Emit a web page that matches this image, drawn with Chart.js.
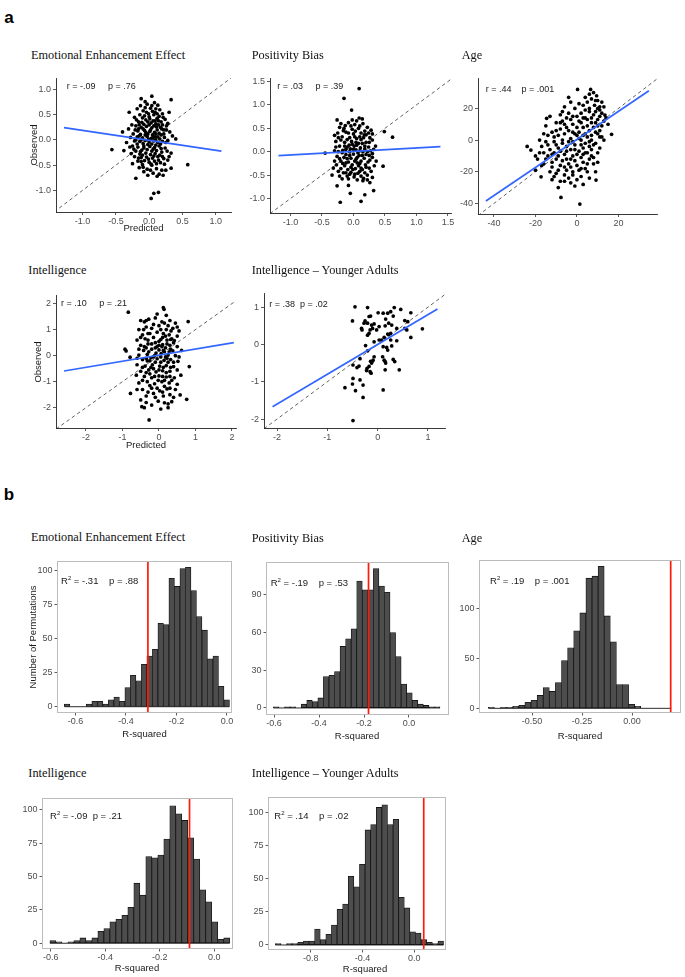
<!DOCTYPE html>
<html><head><meta charset="utf-8">
<script src="https://cdn.jsdelivr.net/npm/chart.js@4.4.0/dist/chart.umd.min.js"></script>
<style>
html,body{margin:0;padding:0;background:#fff}
body{width:685px;height:977px;position:relative;overflow:hidden;font-family:"Liberation Sans",Arial,sans-serif}
canvas{position:absolute}
.t{position:absolute;font-family:"Liberation Serif","Times New Roman",serif;font-size:12.3px;color:#111;white-space:nowrap;line-height:1;transform:translateY(-50%)}
.an{position:absolute;font-size:9px;color:#1a1a1a;white-space:pre;line-height:1;transform:translateY(-50%)}
.an.h{font-size:9.5px}
.an sup{font-size:6px;vertical-align:4px;line-height:0}
.ax{position:absolute;font-size:9.5px;color:#1a1a1a;white-space:nowrap;line-height:1;transform:translate(-50%,-50%)}
.ax.v{transform:translate(-50%,-50%) rotate(-90deg)}
.lab{position:absolute;font-weight:bold;font-size:17px;line-height:1;transform:translate(-50%,-50%);color:#000}
</style>
</head><body>
<script>
// ---------------- Panel a: predicted vs observed ----------------
const eeeScatter = [
[0.04,0.87],[0.33,0.80],[-0.12,0.82],[-0.06,0.76],[0.08,0.74],[-0.03,0.71],[0.13,0.69],
[-0.18,0.62],[0.02,0.63],[0.10,0.62],[-0.09,0.58],[0.05,0.57],[0.16,0.60],[0.30,0.55],[-0.30,0.55],[-0.01,0.52],[0.20,0.52],[0.07,0.50],[-0.14,0.50],
[-0.22,0.45],[-0.10,0.44],[0.00,0.46],[0.12,0.43],[0.24,0.41],[-0.05,0.40],[0.06,0.38],[0.18,0.36],[-0.16,0.36],[0.03,0.34],[0.10,0.32],[-0.08,0.31],[0.28,0.33],[-0.26,0.30],[0.15,0.47],[-0.02,0.36],
[-0.20,0.28],[-0.12,0.25],[-0.04,0.27],[0.04,0.24],[0.11,0.26],[0.19,0.22],[0.26,0.20],[-0.17,0.18],[-0.07,0.19],[0.01,0.17],[0.08,0.15],[0.15,0.13],[0.22,0.12],[-0.24,0.12],[-0.13,0.11],[-0.02,0.12],[0.05,0.10],[0.31,0.16],[-0.40,0.16],[0.12,0.20],[-0.09,0.22],
[-0.28,0.05],[-0.18,0.06],[-0.10,0.04],[-0.03,0.07],[0.03,0.03],[0.09,0.06],[0.16,0.02],[0.23,0.05],[0.40,0.02],[-0.22,-0.02],[-0.14,-0.03],[-0.06,-0.01],[0.00,-0.04],[0.07,-0.02],[0.13,-0.05],[0.20,-0.03],[0.28,-0.01],[-0.34,-0.05],[-0.09,-0.07],[0.04,-0.08],[0.10,0.00],[-0.01,0.01],[0.17,-0.08],
[-0.56,-0.19],[-0.38,-0.21],[-0.25,-0.12],[-0.17,-0.14],[-0.08,-0.12],[0.01,-0.13],[0.08,-0.15],[0.15,-0.12],[0.24,-0.16],[-0.20,-0.22],[-0.11,-0.20],[-0.03,-0.19],[0.04,-0.22],[0.11,-0.21],[0.19,-0.24],[0.27,-0.22],[-0.14,-0.28],[-0.05,-0.26],[0.02,-0.29],[0.09,-0.27],[0.16,-0.30],[-0.27,-0.27],[0.33,-0.26],
[-0.22,-0.33],[-0.12,-0.35],[-0.04,-0.34],[0.05,-0.36],[0.13,-0.33],[0.22,-0.37],[-0.17,-0.42],[-0.07,-0.41],[0.00,-0.44],[0.08,-0.42],[0.17,-0.45],[0.28,-0.40],[-0.10,-0.49],[0.04,-0.50],[-0.25,-0.47],[0.33,-0.56],
[0.58,-0.49],[-0.15,-0.55],[-0.03,-0.58],[0.11,-0.57],[0.19,-0.60],[-0.08,-0.63],[0.06,-0.66],[0.15,-0.68],[-0.02,-0.70],[-0.20,-0.76],[0.12,-0.72],[0.25,-0.60],
[0.07,-1.06],[0.14,-1.04],[0.03,-1.16],
[0.00,0.00],[-0.05,0.15],[0.10,-0.10],[-0.15,0.30],[0.20,0.30],[-0.10,-0.30],[0.14,0.38],[0.07,0.28],[-0.12,0.00],[0.18,0.10],
[-0.19,0.40],[-0.07,0.48],[0.09,0.55],[0.21,0.45],[-0.11,0.35],[0.01,0.42],[0.17,0.25],[-0.21,0.20],[-0.15,0.08],[-0.06,0.10],[0.02,0.20],[0.13,0.06],[0.25,-0.05],[-0.18,-0.08],[-0.02,-0.09],[0.06,-0.18],[0.18,-0.17],[-0.23,-0.18],[-0.13,-0.23],[0.07,-0.32],[0.20,-0.33],[-0.16,-0.36],[-0.01,-0.38],[0.11,-0.47],[-0.12,-0.43],[0.23,-0.48],[0.02,-0.60],[-0.06,0.64],[0.04,0.68],[0.12,0.52],[0.26,0.28],[-0.31,0.22],[0.35,0.08],[-0.29,-0.14],[0.30,-0.33],[0.09,0.38],[-0.04,0.55],[0.14,-0.40],[-0.09,-0.54],[0.21,-0.70],[-0.13,0.68],[0.06,0.05],[-0.20,0.00],[0.22,0.20],[-0.08,-0.16],[0.14,0.30],[0.00,0.30],[-0.16,0.22],[0.03,-0.48],[0.10,0.12]
];
const eeeFit = [[-1.28,0.245],[1.085,-0.22]];

const pbScatter = [
[0.09,1.35],[-0.15,1.14],[-0.03,0.89],[0.62,0.31],[0.49,0.43],[-0.45,-0.03],[0.47,-0.31],[0.26,-0.66],[0.32,-0.83],[-0.26,-0.73],[-0.08,-0.72],[-0.05,-0.89],[0.18,-0.92],[-0.21,-1.08],[0.12,-1.06],[-0.34,-0.50],[-0.26,0.68],[0.09,0.72],
[-0.20,0.60],[-0.08,0.62],[0.02,0.58],[0.15,0.60],[0.22,0.52],[-0.15,0.50],[-0.02,0.48],[0.08,0.50],[0.28,0.46],
[-0.25,0.40],[-0.12,0.42],[0.00,0.38],[0.12,0.40],[0.20,0.36],[-0.18,0.32],[-0.06,0.30],[0.05,0.28],[0.16,0.30],[0.30,0.25],
[-0.28,0.22],[-0.14,0.20],[-0.03,0.22],[0.08,0.18],[0.20,0.20],[-0.22,0.12],[-0.10,0.10],[0.01,0.12],[0.11,0.08],[0.24,0.10],[0.35,0.12],
[-0.30,0.02],[-0.17,0.03],[-0.06,0.00],[0.04,0.04],[0.15,0.00],[0.27,0.02],[-0.12,-0.06],[0.00,-0.05],[0.09,-0.08],[0.20,-0.06],
[-0.26,-0.10],[-0.15,-0.12],[-0.04,-0.14],[0.06,-0.12],[0.17,-0.14],[0.30,-0.12],[-0.20,-0.20],[-0.08,-0.22],[0.02,-0.20],[0.12,-0.20],[0.23,-0.22],
[-0.27,-0.28],[-0.14,-0.30],[-0.02,-0.28],[0.08,-0.30],[0.19,-0.28],[0.33,-0.30],[-0.20,-0.36],[-0.09,-0.38],[0.03,-0.36],[0.14,-0.38],[0.25,-0.35],
[-0.16,-0.45],[-0.04,-0.44],[0.07,-0.46],[0.18,-0.45],[-0.24,-0.42],[-0.10,-0.52],[0.01,-0.54],[0.12,-0.52],[0.22,-0.50],[-0.18,-0.58],[0.06,-0.60],[0.16,-0.57],
[-0.10,0.26],[0.12,0.26],[-0.24,0.30],[0.26,0.30],[-0.07,0.14],[0.05,0.14],[0.18,0.12],[-0.18,-0.02],[0.10,0.02],[-0.01,-0.38],[0.28,-0.42],[-0.13,0.56],[0.05,0.66],[0.18,0.44],[-0.30,-0.20],[0.36,-0.20],[0.22,0.00],[-0.05,0.06],[-0.10,-0.15],[0.10,-0.25],
[-0.02,0.68],[0.14,0.70],[-0.22,0.52],[0.30,0.38],[-0.06,-0.48],[0.10,-0.42],[0.25,-0.08],[-0.24,0.00],[0.04,0.20],[-0.12,-0.24],
[-0.16,0.45],[-0.04,0.55],[0.10,0.55],[0.24,0.40],[-0.20,0.25],[0.02,0.32],[0.14,0.18],[-0.28,0.10],[-0.12,0.05],[0.07,-0.02],[0.18,0.06],[0.30,-0.04],[-0.22,-0.15],[-0.06,-0.08],[0.04,-0.16],[0.14,-0.08],[0.26,-0.18],[-0.17,-0.25],[-0.04,-0.33],[0.06,-0.24],[0.20,-0.33],[-0.12,-0.45],[0.02,-0.48],[0.15,-0.62],[-0.08,-0.58],[0.22,-0.60],[-0.22,-0.52],[0.00,0.05],[0.10,0.32],[-0.08,0.40],[0.25,0.20],[-0.30,0.35],[0.32,0.05],[-0.32,-0.35],[0.30,-0.55],[0.03,0.44],[-0.14,0.12],[0.12,-0.35],[-0.02,0.16],[0.17,0.36]
];
const pbFit = [[-1.19,-0.085],[1.38,0.107]];

const ageScatter = [
[-22.2,-6.3],[-17.3,-23.2],[-14.6,13.7],[-7.7,-36.2],[1.4,-40.4],[0.3,32],[6.6,32],[16.7,3.6],[9.2,-25.3],[13.5,15.8],
[8,30],[9.5,28],[7,26],[10,25],[8.5,22],[5,24],[11,21],[12,17],[9,18],[6,20],[3,22],[-3,24],[-1,20],[-6,21],[-8,16],[-10,11],[-5,14],[0,15],[4,14],[7,14],[10,13],[13,12],[2,11],[-2,10],[5,9],[8,8],[11,6],[-4,6],[-8,7],[-12,5],[1,5],[4,4],[-15,-1],[-11,-1],[-7,0],[-3,1],[2,0],[6,-1],[9,-2],[13,0],[-17,-4],[-13,-6],[-9,-5],[-5,-4],[-1,-3],[3,-5],[7,-6],[10,-8],[-20,-10],[-14,-10],[-10,-12],[-6,-9],[-2,-10],[2,-11],[6,-12],[-16,-15],[-12,-17],[-8,-16],[-4,-15],[0,-16],[4,-18],[-10,-21],[-6,-22],[-2,-20],[2,-23],[5,-20],[-8,-26],[-3,-27],[0,-25],[-13,-20],[-24,-4],[-19,-12],[-9,-30],
[-11,2],[-9,3],[-7,-2],[-3,-6],[-1,4],[1,-7],[3,8],[5,2],[7,3],[9,11],[11,15],[12,9],[-4,17],[-6,10],[-14,3],[-16,-8],[-11,-8],[-7,-13],[-5,-19],[-1,-13],[3,-14],[8,-15],[6,18],[4,27],[2,17],[-2,-1],[0,8],[8,-3],[10,20],[12,24],[14,14],[-18,0],[-12,-14],[-6,4],[0,-9],[4,-2],[-9,-19],[-4,-24],[6,6],[-15,9],[-20,-19],[-8,-7],[3,14],[-3,13],[11,2],[15,10],[7,-10],[1,1],[-13,15],[-7,18],[5,-15],[2,-18],[-1,-29],[-12,-25],[9,-20],[10,-14],[-5,-12],[-17,-16],
[7,11],[9,5],[-2,5],[1,12],[-5,-7],[3,-9],[-10,-3],[6,-4],[11,-5],[-3,-17],
[-6,-17],[-9,-10],[-3,-12],[1,-19],[4,-8],[8,-11],[-12,-9],[-14,-3],[-4,-1],[0,3],[3,3],[7,0],[10,4],[-8,11],[-2,15],[4,19],[8,16],[11,19],[13,21],[9,25],[6,29],[-5,8],[-1,-6],[2,-3],[5,-8],[-10,6],[-16,4],[-6,-26],[-11,-23],[-2,-22],[3,-28],[6,-24],[-15,-12],[-18,-8],[12,2],[-7,12],[1,23],[-4,27],[10,9],[5,13]
];
const ageFit = [[-43.9,-38.5],[34.7,31.1]];

const intScatter = [
[-0.84,1.67],[0.12,1.85],[0.14,1.78],[-0.93,0.25],[-0.79,-0.06],[-0.78,-1.45],[-0.27,-2.47],[0.83,-0.42],[0.76,-1.68],[0.80,1.31],[0.58,-1.51],[-0.47,-1.96],[0.35,-1.77],[0.15,-1.81],[-0.90,0.18],
[-0.50,1.35],[-0.40,1.30],[-0.28,1.40],[-0.10,1.45],[0.08,1.30],[0.30,1.35],[0.45,1.25],[-0.55,1.00],[-0.35,1.10],[-0.20,1.05],[0.00,1.15],[0.20,1.00],[0.38,1.05],[0.55,0.95],[-0.45,0.80],[-0.25,0.85],[-0.05,0.90],[0.12,0.85],[0.28,0.80],[0.50,0.75],[-0.60,0.60],[-0.38,0.65],[-0.15,0.70],[0.05,0.62],[0.22,0.60],[0.42,0.58],[-0.50,0.40],[-0.30,0.45],[-0.10,0.50],[0.10,0.42],[0.30,0.40],[0.50,0.35],[0.62,0.20],[-0.42,0.20],[-0.20,0.25],[0.00,0.22],[0.18,0.30],[0.38,0.18],[-0.55,0.02],[-0.32,0.05],[-0.12,0.00],[0.06,0.08],[0.25,0.02],[0.45,0.00],[-0.45,-0.15],[-0.25,-0.20],[-0.05,-0.12],[0.14,-0.18],[0.32,-0.15],[0.52,-0.22],[-0.60,-0.35],[-0.38,-0.40],[-0.18,-0.35],[0.02,-0.40],[0.20,-0.38],[0.40,-0.42],[-0.50,-0.60],[-0.28,-0.55],[-0.08,-0.62],[0.10,-0.58],[0.30,-0.60],[0.50,-0.55],[-0.40,-0.80],[-0.20,-0.85],[0.00,-0.78],[0.20,-0.82],[0.42,-0.85],[-0.62,-0.75],[-0.55,-1.05],[-0.32,-1.00],[-0.12,-1.08],[0.08,-1.00],[0.28,-1.05],[0.50,-1.10],[-0.45,-1.30],[-0.20,-1.25],[0.02,-1.35],[0.22,-1.28],[0.45,-1.30],[-0.60,-1.30],[-0.35,-1.55],[-0.10,-1.60],[0.12,-1.55],[0.30,-1.50],[-0.50,-1.70],[-0.20,-1.90],[0.05,-2.05],[0.25,-1.85],[-0.40,-2.00],
[-0.05,0.35],[0.15,0.15],[-0.30,0.60],[0.33,0.95],[0.05,-0.25],[-0.15,-0.50],[0.25,-0.25],[-0.25,-0.70],[0.40,0.50],[-0.05,1.60],[0.20,1.55],[-0.15,-0.05],[0.10,0.70],[0.30,-0.80],[-0.35,0.30],
[0.08,0.35],[-0.08,0.10],[0.18,-0.05],[-0.22,-0.08],[0.35,0.65],[-0.02,-0.95],[0.15,-0.95],[-0.32,-0.20],[0.28,0.15],[0.00,0.55],
[-0.35,1.35],[0.15,1.25],[-0.15,1.20],[0.25,1.15],[-0.42,1.00],[0.05,1.00],[-0.30,0.85],[0.18,0.75],[-0.50,0.70],[0.32,0.62],[-0.20,0.45],[0.00,0.40],[0.22,0.45],[-0.40,0.35],[0.12,0.20],[-0.28,0.15],[0.32,0.25],[-0.10,0.30],[0.05,-0.05],[-0.35,-0.10],[0.22,-0.10],[0.40,-0.25],[-0.10,-0.25],[-0.45,-0.45],[0.12,-0.45],[-0.22,-0.45],[0.32,-0.45],[-0.35,-0.65],[0.00,-0.55],[0.20,-0.65],[-0.12,-0.80],[0.10,-0.80],[-0.45,-0.95],[0.35,-0.95],[-0.25,-1.15],[0.15,-1.18],[-0.05,-1.25],[0.30,-1.25],[-0.30,-1.40],[0.10,-1.40],[-0.15,-1.45],[0.40,-1.60],[-0.02,-1.75],[-0.35,-1.80],[0.25,-2.00],[0.50,1.10],[-0.55,0.25],[0.55,-0.05],[-0.60,-0.10],[0.60,-0.75]
];
const intFit = [[-2.6,-0.59],[2.05,0.50]];

const yaScatter = [
[-0.45,1.01],[-0.20,0.99],[0.33,0.99],[0.46,0.94],[-0.50,0.63],[-0.25,0.63],[-0.17,0.75],[-0.14,0.76],[0.01,0.85],[0.11,0.84],[0.20,0.84],[0.26,0.88],[0.31,0.76],[0.16,0.68],[0.66,0.85],[0.54,0.64],[0.60,0.61],
[-0.27,0.57],[-0.20,0.57],[-0.12,0.52],[-0.07,0.55],[-0.10,0.43],[-0.32,0.43],[-0.31,0.39],[-0.15,0.39],[-0.02,0.39],[0.03,0.48],[0.15,0.50],[0.22,0.57],[0.28,0.52],[0.38,0.43],[0.54,0.43],[0.58,0.39],[0.89,0.42],
[-0.20,0.25],[-0.17,0.30],[0.20,0.28],[0.22,0.26],[0.26,0.30],[0.13,0.19],[0.08,0.12],[0.03,0.12],[-0.07,0.07],[0.26,0.12],[0.38,0.10],[0.66,0.19],
[-0.24,-0.03],[0.11,-0.06],[0.18,-0.08],[0.28,-0.04],[-0.20,-0.17],[0.20,-0.15],
[-0.35,-0.38],[-0.07,-0.33],[-0.09,-0.42],[0.10,-0.33],[0.13,-0.42],[0.15,-0.46],[0.16,-0.50],[0.31,-0.40],[0.34,-0.46],
[-0.49,-0.55],[-0.41,-0.62],[-0.37,-0.58],[-0.21,-0.64],[-0.17,-0.59],[-0.14,-0.45],[-0.11,-0.46],[-0.12,-0.50],[-0.22,-0.70],[-0.15,-0.73],[-0.13,-0.77],[0.15,-0.68],[0.43,-0.68],
[-0.49,-0.91],[-0.35,-0.95],[-0.50,-1.06],[-0.65,-1.16],[-0.29,-1.09],[-0.44,-1.24],[-0.29,-1.42],[0.11,-1.22],[-0.49,-2.04]
];
const yaFit = [[-2.09,-1.67],[1.19,0.95]];

// tick values / labels (panel a)
const eeeTicks = [-1, -0.5, 0, 0.5, 1];
const eeeTickLabels = ['-1.0', '-0.5', '0.0', '0.5', '1.0'];
const pbTicks = [-1, -0.5, 0, 0.5, 1, 1.5];
const pbTickLabels = ['-1.0', '-0.5', '0.0', '0.5', '1.0', '1.5'];
const ageTicks = [-40, -20, 0, 20];
const ageTickLabels = ['-40', '-20', '0', '20'];
const intTicks = [-2, -1, 0, 1, 2];
const intTickLabels = ['-2', '-1', '0', '1', '2'];
const yaTicks = [-2, -1, 0, 1];
const yaTickLabels = ['-2', '-1', '0', '1'];

// ---------------- Panel b: permutation histograms ----------------
const eeePermCounts = [2,0,0,0,2,4,4,2,5,7,4,14,23,19,31,37,42,61,60,94,88,101,102,85,66,56,35,37,15,5];
const eeeBinStart = -0.644, eeeBinWidth = 0.0218, eeeObservedR2 = -0.313;
const pbPermCounts = [1,0,1,1,0,3,6,5,8,25,26,29,49,55,63,101,94,94,111,97,92,60,41,19,12,6,3,2,1,1];
const pbBinStart = -0.603, pbBinWidth = 0.0247, pbObservedR2 = -0.18;
const agePermCounts = [1,0,1,1,2,3,6,8,13,21,17,26,48,61,78,96,131,133,143,93,67,24,24,4,2,0,0,0,0,0];
const ageBinStart = -0.7185, ageBinWidth = 0.0305, ageObservedR2 = 0.1935;
const intPermCounts = [2,1,0,1,2,4,2,4,9,11,16,18,21,27,45,36,65,64,66,78,103,97,92,79,63,40,31,16,3,4];
const intBinStart = -0.603, intBinWidth = 0.022, intObservedR2 = -0.0906;
const yaPermCounts = [1,0,1,1,2,3,3,12,4,8,15,27,31,52,44,61,87,91,104,106,91,95,36,28,10,9,4,2,1,3];
const yaBinStart = -1.073, yaBinWidth = 0.0433, yaObservedR2 = 0.073;

const r2Ticks3 = [-0.6, -0.4, -0.2, 0];
const r2Labels3 = ['-0.6', '-0.4', '-0.2', '0.0'];
const ageR2Ticks = [-0.5, -0.25, 0];
const ageR2Labels = ['-0.50', '-0.25', '0.00'];
const yaR2Ticks = [-0.8, -0.4, 0];
const yaR2Labels = ['-0.8', '-0.4', '0.0'];
const countTicks25 = [0, 25, 50, 75, 100];
const countTicks30 = [0, 30, 60, 90];
const countTicks50 = [0, 50, 100];

// ---------------- drawing helpers ----------------
const YW = 30, PT = 8, PR = 14, XH = 24;
const FONT = 'Liberation Sans';

function makeCanvas(rect) {
  const c = document.createElement('canvas');
  const w = rect.R - rect.L + YW + PR, h = rect.B - rect.T + PT + XH;
  c.width = w; c.height = h;
  c.style.left = (rect.L - YW) + 'px'; c.style.top = (rect.T - PT) + 'px';
  c.style.width = w + 'px'; c.style.height = h + 'px';
  document.body.appendChild(c);
  return c;
}

function axis(range, ticks, labels, pos, border) {
  const isY = pos === 'left';
  return {
    type: 'linear', position: pos, min: range[0], max: range[1], offset: false,
    afterBuildTicks: s => { s.ticks = ticks.map(v => ({ value: v })); },
    afterFit: s => { if (isY) s.width = YW; else s.height = XH; },
    ticks: {
      autoSkip: false, maxRotation: 0, minRotation: 0, padding: isY ? 2 : 1,
      color: '#4d4d4d', font: { family: FONT, size: 9 },
      callback: (v, i) => labels[i]
    },
    grid: { display: true, drawOnChartArea: false, drawTicks: true, tickLength: 3, color: '#333', lineWidth: 0.8, offset: false },
    border: { display: border, color: '#222', width: 0.9 }
  };
}

const baseOpts = () => ({
  responsive: false, animation: false, events: [],
  layout: { padding: { top: PT, right: PR, left: 0, bottom: 0 } },
  plugins: { legend: { display: false }, tooltip: { enabled: false } }
});

function scatterPanel(p) {
  const c = makeCanvas(p.rect);
  const lo = Math.min(p.xr[0], p.yr[0]), hi = Math.max(p.xr[1], p.yr[1]);
  const opts = baseOpts();
  opts.scales = {
    x: axis(p.xr, p.xt, p.xl, 'bottom', true),
    y: axis(p.yr, p.yt, p.yl, 'left', true)
  };
  new Chart(c, {
    type: 'scatter',
    data: { datasets: [
      { data: [{ x: lo, y: lo }, { x: hi, y: hi }], showLine: true, borderColor: '#3a3a3a', borderWidth: 0.8, borderDash: [3.5, 3], pointRadius: 0, clip: 0, order: 3 },
      { data: p.pts.map(d => ({ x: d[0], y: d[1] })), pointRadius: 1.85, pointBackgroundColor: '#000', pointBorderWidth: 0, showLine: false, clip: false, order: 2 },
      { data: p.fit.map(d => ({ x: d[0], y: d[1] })), showLine: true, borderColor: '#3366ff', borderWidth: 1.7, pointRadius: 0, clip: 0, order: 1 }
    ] },
    options: opts
  });
}

const boxPlugin = {
  id: 'panelBox',
  afterDraw(chart) {
    const a = chart.chartArea, ctx = chart.ctx;
    ctx.save();
    ctx.strokeStyle = '#bcbcbc'; ctx.lineWidth = 1;
    ctx.strokeRect(Math.round(a.left) + 0.5, Math.round(a.top) + 0.5, Math.round(a.right - a.left) - 1, Math.round(a.bottom - a.top) - 1);
    ctx.restore();
  }
};

function histPanel(p) {
  const c = makeCanvas(p.rect);
  const bars = p.counts.map((n, i) => ({ x: p.start + (i + 0.5) * p.width, y: n }));
  const end = p.start + p.counts.length * p.width;
  const opts = baseOpts();
  opts.scales = {
    x: axis(p.xr, p.xt, p.xl, 'bottom', false),
    y: axis(p.yr, p.yt, p.yl, 'left', false)
  };
  opts.scales.x.grid.tickLength = 2.5;
  opts.scales.y.grid.tickLength = 2.5;
  new Chart(c, {
    type: 'bar',
    data: { datasets: [
      { type: 'bar', data: bars, backgroundColor: '#4d4d4d', borderColor: '#141414', borderWidth: 0.8, borderSkipped: false, barPercentage: 1, categoryPercentage: 1, order: 3 },
      { type: 'line', data: [{ x: p.start, y: 0 }, { x: end, y: 0 }], borderColor: '#141414', borderWidth: 0.9, pointRadius: 0, clip: 0, order: 2 },
      { type: 'line', data: [{ x: p.red, y: p.yr[0] - 50 }, { x: p.red, y: p.yr[1] + 50 }], borderColor: '#ff1a0a', borderWidth: 1.7, pointRadius: 0, clip: 0, order: 1 }
    ] },
    options: opts,
    plugins: [boxPlugin]
  });
}

// ---------------- build panels ----------------
scatterPanel({ rect: { L: 56, T: 78, R: 231, B: 212 }, xr: [-1.40, 1.23], yr: [-1.43, 1.23], xt: eeeTicks, xl: eeeTickLabels, yt: eeeTicks, yl: eeeTickLabels, pts: eeeScatter, fit: eeeFit });
scatterPanel({ rect: { L: 270, T: 78, R: 451, B: 213 }, xr: [-1.325, 1.548], yr: [-1.31, 1.575], xt: pbTicks, xl: pbTickLabels, yt: pbTicks, yl: pbTickLabels, pts: pbScatter, fit: pbFit });
scatterPanel({ rect: { L: 478, T: 78, R: 657, B: 214 }, xr: [-47.7, 38.6], yr: [-46.7, 39.2], xt: ageTicks, xl: ageTickLabels, yt: ageTicks, yl: ageTickLabels, pts: ageScatter, fit: ageFit });
scatterPanel({ rect: { L: 56, T: 295, R: 236, B: 428 }, xr: [-2.82, 2.11], yr: [-2.78, 2.33], xt: intTicks, xl: intTickLabels, yt: intTicks, yl: intTickLabels, pts: intScatter, fit: intFit });
scatterPanel({ rect: { L: 264, T: 293, R: 445, B: 428 }, xr: [-2.26, 1.34], yr: [-2.24, 1.38], xt: yaTicks, xl: yaTickLabels, yt: yaTicks, yl: yaTickLabels, pts: yaScatter, fit: yaFit });

histPanel({ rect: { L: 57, T: 561, R: 232, B: 713 }, xr: [-0.673, 0.02], yr: [-4.6, 106.6], xt: r2Ticks3, xl: r2Labels3, yt: countTicks25, yl: countTicks25.map(String), counts: eeePermCounts, start: eeeBinStart, width: eeeBinWidth, red: eeeObservedR2 });
histPanel({ rect: { L: 266, T: 562, R: 449, B: 715 }, xr: [-0.636, 0.178], yr: [-5.6, 116.2], xt: r2Ticks3, xl: r2Labels3, yt: countTicks30, yl: countTicks30.map(String), counts: pbPermCounts, start: pbBinStart, width: pbBinWidth, red: pbObservedR2 });
histPanel({ rect: { L: 479, T: 560, R: 681, B: 713 }, xr: [-0.765, 0.245], yr: [-4.7, 149.3], xt: ageR2Ticks, xl: ageR2Labels, yt: countTicks50, yl: countTicks50.map(String), counts: agePermCounts, start: ageBinStart, width: ageBinWidth, red: ageObservedR2 });
histPanel({ rect: { L: 42, T: 798, R: 233, B: 949 }, xr: [-0.632, 0.069], yr: [-4.3, 108.8], xt: r2Ticks3, xl: r2Labels3, yt: countTicks25, yl: countTicks25.map(String), counts: intPermCounts, start: intBinStart, width: intBinWidth, red: intObservedR2 });
histPanel({ rect: { L: 268, T: 797, R: 446, B: 950 }, xr: [-1.13, 0.245], yr: [-3.8, 111.9], xt: yaR2Ticks, xl: yaR2Labels, yt: countTicks25, yl: countTicks25.map(String), counts: yaPermCounts, start: yaBinStart, width: yaBinWidth, red: yaObservedR2 });

// ---------------- text ----------------
function txt(cls, html, x, y) {
  const d = document.createElement('div');
  d.className = cls; d.innerHTML = html;
  d.style.left = x + 'px'; d.style.top = y + 'px';
  document.body.appendChild(d);
}
txt('lab', 'a', 9, 17);
txt('lab', 'b', 9, 494);

txt('t', 'Emotional Enhancement Effect', 31, 55);
txt('t', 'Positivity Bias', 251.7, 55);
txt('t', 'Age', 461.7, 55);
txt('t', 'Intelligence', 28.3, 270);
txt('t', 'Intelligence \u2013 Younger Adults', 251.7, 270);
txt('t', 'Emotional Enhancement Effect', 31, 537.3);
txt('t', 'Positivity Bias', 251.7, 538.3);
txt('t', 'Age', 461.7, 538);
txt('t', 'Intelligence', 28.3, 773.3);
txt('t', 'Intelligence \u2013 Younger Adults', 251.7, 773.3);

txt('an', 'r = -.09     p = .76', 66.7, 85.7);
txt('an', 'r = .03     p = .39', 277.3, 85.7);
txt('an', 'r = .44    p = .001', 485.7, 89.3);
txt('an', 'r = .10     p = .21', 61, 302.7);
txt('an', 'r = .38  p = .02', 269.3, 304.3);
txt('an h', 'R<sup>2</sup> = -.31    p = .88', 61, 580.7);
txt('an h', 'R<sup>2</sup> = -.19    p = .53', 270.7, 582.7);
txt('an h', 'R<sup>2</sup> = .19    p = .001', 490, 580.7);
txt('an h', 'R<sup>2</sup> = -.09  p = .21', 50, 816);
txt('an h', 'R<sup>2</sup> = .14    p = .02', 274.3, 816);

txt('ax v', 'Observed', 33.5, 145);
txt('ax', 'Predicted', 143.5, 228);
txt('ax v', 'Observed', 38, 361.5);
txt('ax', 'Predicted', 146, 445);
txt('ax v', 'Number of Permutations', 33, 637);
txt('ax', 'R-squared', 144.5, 734);
txt('ax', 'R-squared', 357, 736);
txt('ax', 'R-squared', 580, 736);
txt('ax', 'R-squared', 137, 968);
txt('ax', 'R-squared', 365, 969);
</script>
</body></html>
